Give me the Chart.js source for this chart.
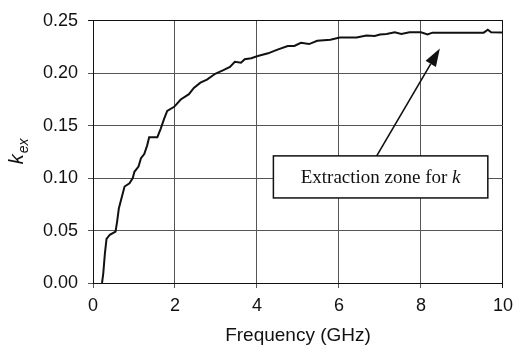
<!DOCTYPE html>
<html>
<head>
<meta charset="utf-8">
<script src="https://cdn.jsdelivr.net/npm/chart.js@4.4.1/dist/chart.umd.min.js"></script>
<style>
  html, body { margin: 0; padding: 0; background: #fff; }
  #wrap { width: 520px; height: 348px; }
</style>
</head>
<body>
<div id="wrap"><canvas id="chart" width="520" height="348"></canvas></div>
<script>
// ---- DATA ----
const freqGHz = [
  0.22, 0.25, 0.29, 0.33, 0.41, 0.55, 0.59, 0.63, 0.69, 0.77,
  0.89, 0.97, 1.01, 1.11, 1.17, 1.25, 1.32, 1.37, 1.57, 1.65,
  1.73, 1.81, 1.98, 2.14, 2.34, 2.46, 2.62, 2.78, 2.98, 3.18,
  3.34, 3.46, 3.61, 3.70, 3.86, 4.02, 4.27, 4.50, 4.75, 4.91,
  5.07, 5.27, 5.47, 5.79, 6.02, 6.43, 6.67, 6.87, 7.00, 7.16,
  7.36, 7.52, 7.72, 8.00, 8.16, 8.28, 9.53, 9.63, 9.71, 10.0
];
const kex = [
  0.000, 0.009, 0.028, 0.042, 0.046, 0.049, 0.059, 0.071, 0.080, 0.092,
  0.095, 0.100, 0.106, 0.111, 0.119, 0.123, 0.131, 0.139, 0.139, 0.147,
  0.156, 0.164, 0.168, 0.175, 0.180, 0.186, 0.191, 0.194, 0.1995, 0.203,
  0.206, 0.211, 0.210, 0.2133, 0.2143, 0.2165, 0.219, 0.2225, 0.226, 0.226,
  0.229, 0.2278, 0.231, 0.232, 0.234, 0.234, 0.236, 0.2355, 0.237, 0.2375,
  0.239, 0.2375, 0.239, 0.239, 0.237, 0.2387, 0.2387, 0.2415, 0.239, 0.2388
];
const xTicks = [0, 2, 4, 6, 8, 10];
const yTicks = [0, 0.05, 0.10, 0.15, 0.20, 0.25];

// annotation (in data units)
const noteText = 'Extraction zone for ';
const noteItalic = 'k';
const noteBox = { x0: 4.40, x1: 9.63, y0: 0.0811, y1: 0.1212 };
const noteArrow = { fromX: 6.92, fromY: 0.1212, toX: 8.46, toY: 0.2237 };

const SANS = '"Liberation Sans", Arial, Helvetica, sans-serif';
const SERIF = '"Liberation Serif", "Times New Roman", serif';

// ---- PLUGINS ----
const yTitlePlugin = {
  id: 'yTitle',
  afterDraw(chart) {
    const { ctx, chartArea } = chart;
    const cy = (chartArea.top + chartArea.bottom) / 2;
    ctx.save();
    ctx.translate(23, cy);
    ctx.rotate(-Math.PI / 2);
    ctx.fillStyle = '#111';
    ctx.textBaseline = 'alphabetic';
    ctx.font = 'italic 20px ' + SANS;
    const wk = ctx.measureText('k').width;
    ctx.font = 'italic 14px ' + SANS;
    const ws = ctx.measureText('ex').width;
    const start = -(wk + ws) / 2;
    ctx.font = 'italic 20px ' + SANS;
    ctx.fillText('k', start, 0);
    ctx.font = 'italic 14px ' + SANS;
    ctx.fillText('ex', start + wk + 1, 5);
    ctx.restore();
  }
};

const notePlugin = {
  id: 'note',
  afterDatasetsDraw(chart) {
    const { ctx, scales: { x, y } } = chart;
    const bx0 = x.getPixelForValue(noteBox.x0), bx1 = x.getPixelForValue(noteBox.x1);
    const by0 = y.getPixelForValue(noteBox.y1), by1 = y.getPixelForValue(noteBox.y0);
    ctx.save();
    // box
    ctx.fillStyle = '#fff';
    ctx.fillRect(bx0, by0, bx1 - bx0, by1 - by0);
    ctx.strokeStyle = '#111';
    ctx.lineWidth = 1.5;
    ctx.strokeRect(bx0, by0, bx1 - bx0, by1 - by0);
    // text
    ctx.fillStyle = '#111';
    ctx.textBaseline = 'middle';
    ctx.font = '19px ' + SERIF;
    const w1 = ctx.measureText(noteText).width;
    ctx.font = 'italic 19px ' + SERIF;
    const w2 = ctx.measureText(noteItalic).width;
    const tx = (bx0 + bx1) / 2 - (w1 + w2) / 2;
    const ty = (by0 + by1) / 2 + 1;
    ctx.font = '19px ' + SERIF;
    ctx.fillText(noteText, tx, ty);
    ctx.font = 'italic 19px ' + SERIF;
    ctx.fillText(noteItalic, tx + w1, ty);
    // arrow
    const ax0 = x.getPixelForValue(noteArrow.fromX), ay0 = y.getPixelForValue(noteArrow.fromY);
    const ax1 = x.getPixelForValue(noteArrow.toX), ay1 = y.getPixelForValue(noteArrow.toY);
    const ang = Math.atan2(ay1 - ay0, ax1 - ax0);
    const headLen = 18, headW = 6;
    const bxh = ax1 - headLen * Math.cos(ang), byh = ay1 - headLen * Math.sin(ang);
    ctx.strokeStyle = '#111';
    ctx.lineWidth = 1.6;
    ctx.beginPath();
    ctx.moveTo(ax0, ay0);
    ctx.lineTo(bxh, byh);
    ctx.stroke();
    ctx.beginPath();
    ctx.moveTo(ax1, ay1);
    ctx.lineTo(bxh + headW * Math.sin(ang), byh - headW * Math.cos(ang));
    ctx.lineTo(bxh - headW * Math.sin(ang), byh + headW * Math.cos(ang));
    ctx.closePath();
    ctx.fill();
    ctx.restore();
  }
};

// ---- CHART ----
const gridColor = (max) => (c) => (c.tick && c.tick.value === max ? '#111' : '#555');

new Chart(document.getElementById('chart'), {
  type: 'line',
  data: {
    datasets: [{
      data: freqGHz.map((f, i) => ({ x: f, y: kex[i] })),
      borderColor: '#111',
      borderWidth: 2,
      pointRadius: 0,
      tension: 0,
      fill: false
    }]
  },
  options: {
    responsive: false,
    animation: false,
    layout: { padding: { top: 17, right: 12, left: 0, bottom: 0 } },
    plugins: { legend: { display: false }, tooltip: { enabled: false } },
    scales: {
      x: {
        type: 'linear',
        min: 0, max: 10,
        afterBuildTicks: (s) => { s.ticks = xTicks.map(v => ({ value: v })); },
        afterFit: (s) => { s.height = 65; },
        grid: { color: gridColor(10), lineWidth: 1, tickLength: 5, drawTicks: true },
        border: { display: true, color: '#111', width: 1 },
        ticks: {
          color: '#111', padding: 7, maxRotation: 0,
          font: { family: SANS, size: 18 },
          callback: (v) => String(v)
        },
        title: {
          display: true, text: 'Frequency (GHz)', color: '#111',
          font: { family: SANS, size: 19 }, padding: { top: 0, bottom: 1 }
        }
      },
      y: {
        type: 'linear',
        min: 0, max: 0.25,
        afterBuildTicks: (s) => { s.ticks = yTicks.map(v => ({ value: v })); },
        afterFit: (s) => { s.width = 93; },
        grid: { color: gridColor(0.25), lineWidth: 1, tickLength: 5, drawTicks: true },
        border: { display: true, color: '#111', width: 1 },
        ticks: {
          color: '#111', padding: 10,
          font: { family: SANS, size: 18 },
          callback: (v) => v.toFixed(2)
        }
      }
    }
  },
  plugins: [yTitlePlugin, notePlugin]
});
</script>
</body>
</html>
